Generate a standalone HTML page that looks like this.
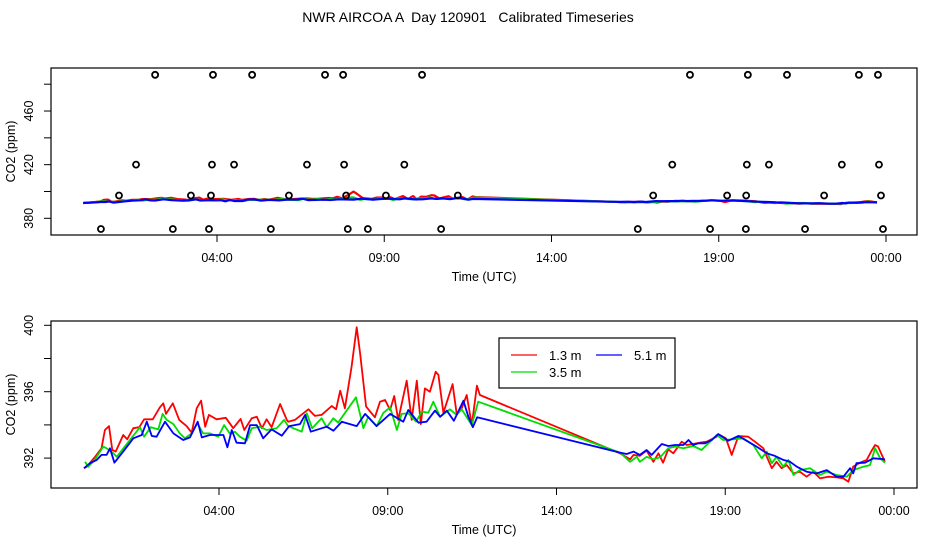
<!DOCTYPE html>
<html><head><meta charset="utf-8">
<style>
html,body{margin:0;padding:0;background:#fff;}
svg{display:block;font-family:"Liberation Sans",Arial,sans-serif;}
</style></head>
<body>
<svg id="chart" width="936" height="540" viewBox="0 0 936 540" xmlns="http://www.w3.org/2000/svg">
<rect width="936" height="540" fill="#fff"/>
<text x="468" y="22" font-size="14" text-anchor="middle" xml:space="preserve">NWR AIRCOA A  Day 120901   Calibrated Timeseries</text>
<g id="top"></g>
<g id="bot"></g>
</svg>
<script>
// ---- data ----
const xTickHours = [4, 9, 14, 19, 24];
const xTickLabels = ["04:00", "09:00", "14:00", "19:00", "00:00"];
const topYTicks = [380, 400, 420, 440, 460, 480];
const topYLabels = [380, 420, 460];
const botYTicks = [392, 394, 396, 398, 400];
const botYLabels = [392, 396, 400];
const seriesNames = ["1.3 m", "3.5 m", "5.1 m"];
const seriesColors = ["#ff0000", "#00dd00", "#0000ff"];

const redHours = [0.0,0.08,0.33,0.52,0.62,0.74,0.84,0.94,1.16,1.28,1.46,1.64,1.78,2.04,2.25,2.35,2.43,2.63,2.82,3.04,3.19,3.34,3.47,3.59,3.70,3.93,4.20,4.42,4.64,4.75,4.97,5.12,5.27,5.41,5.56,5.81,6.01,6.05,6.25,6.65,6.84,7.04,7.34,7.47,7.59,7.73,7.93,8.08,8.18,8.36,8.62,8.77,8.92,9.07,9.19,9.31,9.56,9.71,9.86,9.98,10.10,10.25,10.42,10.50,10.65,10.92,11.04,11.19,11.34,11.49,11.64,11.73,15.88,16.18,16.28,16.47,16.67,16.87,17.02,17.16,17.31,17.46,17.71,17.86,18.25,18.45,18.65,18.84,19.02,19.19,19.39,19.68,19.88,20.13,20.23,20.38,20.52,20.67,20.82,21.02,21.21,21.41,21.61,21.81,22.05,22.30,22.50,22.65,22.79,22.99,23.19,23.34,23.44,23.53,23.73];
const redValues = [391.39,391.48,392.08,392.59,393.69,393.93,392.49,392.39,393.39,393.13,393.80,393.86,394.34,394.34,395.06,395.30,394.66,395.30,394.30,393.93,393.53,395.00,395.46,393.89,394.60,394.34,394.43,393.80,394.36,393.69,394.40,394.49,393.80,394.34,393.86,395.26,394.30,394.19,394.30,394.94,394.54,394.60,395.14,394.94,396.06,395.00,397.51,399.88,398.31,395.10,394.46,395.40,395.50,394.90,395.74,394.30,396.66,394.30,396.66,394.05,396.20,396.00,397.20,397.01,394.73,396.46,394.70,395.00,395.80,393.99,396.36,395.80,392.29,391.93,392.19,392.14,392.45,391.78,392.29,391.72,392.53,392.29,392.99,392.79,392.93,392.99,393.19,393.39,393.19,392.19,393.33,393.29,392.99,392.59,392.08,391.39,391.78,391.39,391.58,391.08,391.18,390.88,391.18,390.78,390.88,390.84,390.78,390.58,391.48,391.72,391.89,392.45,392.79,392.69,391.78];

const greenHours = [0.03,0.13,0.33,0.57,0.67,0.87,0.97,1.36,1.66,1.78,1.98,2.20,2.33,2.45,2.65,2.84,2.99,3.19,3.36,3.53,3.73,3.98,4.15,4.33,4.47,4.62,4.82,4.97,5.21,5.41,5.71,5.93,6.05,6.20,6.45,6.60,6.76,7.04,7.19,7.39,7.53,8.06,8.28,8.42,8.67,8.87,9.07,9.27,9.41,9.61,9.84,10.01,10.20,10.35,10.55,10.84,11.04,11.19,11.49,11.68,15.88,16.18,16.38,16.47,16.67,16.87,17.07,17.31,17.51,17.76,18.05,18.30,18.50,18.75,18.94,19.24,19.53,19.83,20.08,20.23,20.38,20.52,20.72,20.87,21.02,21.21,21.51,21.81,22.01,22.30,22.60,22.79,23.09,23.29,23.44,23.59,23.73];
const greenValues = [391.78,391.48,391.93,392.69,392.59,392.29,392.08,393.09,393.86,393.29,393.86,393.73,394.66,394.30,394.05,393.49,393.19,393.49,394.10,393.49,393.49,393.29,393.99,393.45,393.59,393.29,393.05,393.80,393.89,393.69,393.80,394.30,393.93,393.80,393.59,394.70,393.80,394.40,393.86,394.40,394.13,395.66,393.80,394.49,393.93,394.73,395.06,393.69,394.66,394.70,394.19,394.80,394.73,395.40,394.49,394.94,394.60,394.94,393.99,395.40,392.33,391.78,392.08,391.78,392.08,391.93,392.05,392.59,392.69,392.59,392.73,392.49,392.89,393.39,393.09,393.13,393.19,392.79,391.99,392.39,391.69,392.08,391.48,391.89,390.98,391.28,391.39,390.98,391.18,390.98,390.88,391.28,391.48,391.58,392.59,391.99,391.72];

const blueHours = [0.0,0.18,0.38,0.52,0.67,0.77,0.90,1.16,1.46,1.71,1.86,2.01,2.15,2.40,2.65,2.94,3.14,3.37,3.49,3.73,4.13,4.25,4.38,4.52,4.77,4.92,5.12,5.31,5.56,5.86,6.08,6.40,6.55,6.72,7.19,7.39,7.64,8.08,8.33,8.67,9.07,9.46,9.61,9.91,10.15,10.40,10.55,10.75,10.96,11.24,11.39,11.52,11.65,15.88,16.08,16.28,16.47,16.67,16.82,17.12,17.31,17.51,17.76,17.91,18.05,18.20,18.40,18.60,18.79,19.09,19.39,19.68,19.93,20.23,20.47,20.72,20.92,21.12,21.41,21.71,22.01,22.30,22.50,22.70,22.79,22.89,23.14,23.39,23.73];
const blueValues = [391.39,391.69,391.89,392.19,392.19,392.59,391.72,392.39,393.19,393.39,394.19,393.33,393.29,394.19,393.49,393.09,393.25,394.19,393.25,393.39,393.39,392.65,393.69,392.93,392.89,393.99,393.99,393.19,393.73,393.35,393.93,394.05,394.60,393.59,393.89,393.65,394.19,393.93,394.66,393.93,394.66,394.19,394.90,394.13,394.19,394.86,394.49,394.86,394.25,395.46,394.49,393.86,394.46,392.33,392.25,392.39,392.19,392.49,392.19,392.85,392.73,392.79,392.79,393.09,392.79,392.89,392.89,393.09,393.45,393.05,393.33,392.99,392.69,392.29,392.13,391.89,391.78,391.48,391.18,391.08,391.28,390.88,390.88,391.39,391.08,391.69,391.72,391.99,391.93];

const flagHours = [2.15,3.88,5.05,7.23,7.77,10.13,18.14,19.87,21.04,23.19,23.76,
  1.58,3.85,4.51,6.69,7.80,9.60,17.61,19.84,20.50,22.68,23.79,
  1.07,3.22,3.82,6.15,7.86,9.05,11.20,17.04,19.25,19.82,22.15,23.85,
  0.53,2.68,3.76,5.61,7.91,8.51,10.70,16.58,18.74,19.81,21.58,23.91];
const flagValues = [487,487,487,487,487,487,487,487,487,487,487,
  420,420,420,420,420,420,420,420,420,420,420,
  397,397,397,397,397,397,397,397,397,397,397,397,
  372,372,372,372,372,372,372,372,372,372,372,372];

// ---- drawing ----
const NS = "http://www.w3.org/2000/svg";
function mk(tag, attrs, parent) {
  const e = document.createElementNS(NS, tag);
  for (const k in attrs) e.setAttribute(k, attrs[k]);
  parent.appendChild(e);
  return e;
}
const topG = document.getElementById('top');
const botG = document.getElementById('bot');

const topPanel = {g: topG, left: 51, right: 917, top: 68, bottom: 235,
  x: h => 83.2 + h * 33.45, y: v => 218.3 - (v - 380) * 1.341};
const botPanel = {g: botG, left: 51, right: 917, top: 321, bottom: 488,
  x: h => 84 + h * 33.75, y: v => 325.3 + (400 - v) * 16.6};

function axes(p, yTicks, yLabels, name) {
  const box = mk('rect', {x: p.left, y: p.top, width: p.right - p.left, height: p.bottom - p.top, fill: 'none', stroke: '#000', 'stroke-width': 1.2}, p.g);
  
  
  const xa = mk('g', {}, p.g);
  
  
  xTickHours.forEach((h, i) => {
    const x = p.x(h);
    mk('line', {x1: x, x2: x, y1: p.bottom, y2: p.bottom + 7, stroke: '#000'}, xa);
    const t = mk('text', {x: x, y: p.bottom + 27, 'font-size': 12.5, 'text-anchor': 'middle'}, xa);
    t.textContent = xTickLabels[i];
    
    
  });
  const xt = mk('text', {x: 484, y: p.bottom + 46, 'font-size': 12.5, 'text-anchor': 'middle'}, p.g);
  xt.textContent = 'Time (UTC)';
  
  
  const ya = mk('g', {}, p.g);
  
  
  yTicks.forEach(v => {
    const y = p.y(v);
    mk('line', {x1: p.left - 7, x2: p.left, y1: y, y2: y, stroke: '#000'}, ya);
  });
  yLabels.forEach(v => {
    const y = p.y(v);
    const t = mk('text', {x: 0, y: 0, 'font-size': 12.5, 'text-anchor': 'middle', transform: 'translate(33,' + y + ') rotate(-90)'}, ya);
    t.setAttribute('transform', 'translate(29,' + y + ') rotate(-90)');
    t.setAttribute('dy', '4');
    t.textContent = String(v);
    
    
  });
  const yt = mk('text', {x: 0, y: 0, 'font-size': 12.5, 'text-anchor': 'middle', dy: '4', transform: 'translate(11,' + ((p.top + p.bottom) / 2) + ') rotate(-90)'}, p.g);
  yt.textContent = 'CO2 (ppm)';
  
  
}

function series(p, hours, vals, color, name, w) {
  const d = hours.map((h, i) => (i ? 'L' : 'M') + p.x(h).toFixed(1) + ',' + p.y(vals[i]).toFixed(1)).join('');
  const path = mk('path', {d: d, fill: 'none', stroke: color, 'stroke-width': w, 'stroke-linejoin': 'round'}, p.g);
  
  
}

axes(topPanel, topYTicks, topYLabels, 'top');
axes(botPanel, botYTicks, botYLabels, 'bottom');

const allH = [redHours, greenHours, blueHours];
const allV = [redValues, greenValues, blueValues];
const keys = ['series-1-3m', 'series-3-5m', 'series-5-1m'];
[0, 1, 2].forEach(i => series(topPanel, allH[i], allV[i], seriesColors[i], 'top-' + keys[i], 2.2));
[0, 1, 2].forEach(i => series(botPanel, allH[i], allV[i], seriesColors[i], 'bottom-' + keys[i], 1.8));

flagHours.forEach((h, i) => {
  const c = mk('circle', {cx: topPanel.x(h), cy: topPanel.y(flagValues[i]), r: 3, fill: 'none', stroke: '#000', 'stroke-width': 1.8}, topG);
  
  
});

// legend
const lg = mk('g', {}, botG);


mk('rect', {x: 499, y: 338, width: 176, height: 50, fill: '#fff', stroke: '#000', 'stroke-width': 1.2}, lg);
const legPos = [[511, 355], [511, 372], [596, 355]];
seriesNames.forEach((n, i) => {
  const e = mk('g', {}, lg);
  
  
  const [lx, ly] = legPos[i];
  mk('line', {x1: lx, x2: lx + 26, y1: ly, y2: ly, stroke: seriesColors[i], 'stroke-width': 1.2}, e);
  const t = mk('text', {x: lx + 38, y: ly + 5, 'font-size': 13}, e);
  t.textContent = n;
});
</script>
</body></html>
